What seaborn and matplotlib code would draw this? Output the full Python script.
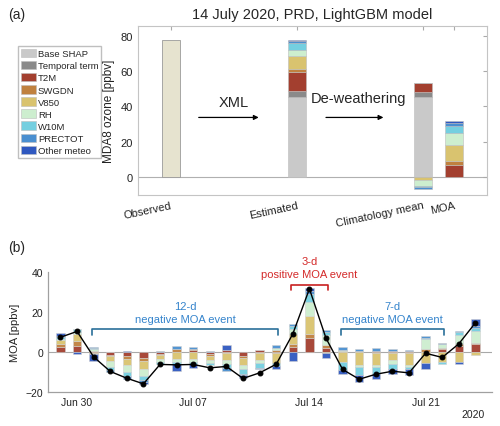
import numpy as np
import pandas as pd
import seaborn as sns
import matplotlib.pyplot as plt
import matplotlib.dates as mdates

sns.set_style('white')
plt.rcParams['font.family'] = ['Liberation Sans', 'DejaVu Sans']

# ---- painel (a): 14 July 2020 ----
componentes = ['Base SHAP', 'Temporal term', 'T2M', 'SWGDN', 'V850', 'RH',
               'W10M', 'PRECTOT', 'Other meteo']
cores = ['#c9c9c9', '#8a8a8a', '#a33f2f', '#c0813f', '#d9c36f', '#cdeecf',
         '#74cfe0', '#4a8fd0', '#2f58c0']

categorias_a = ['Observed', 'Estimated', 'Climatology mean', 'MOA']
observado = 77.8
# valores para Estimated, Climatology mean, MOA
base_shap = [45.3, 45.3, 0.0]
temporal = [3.3, 2.9, 0.0]
t2m_a = [10.9, 5.0, 7.1]
swgdn_a = [1.9, 0.0, 1.9]
v850_a = [7.2, -1.5, 9.0]
rh_a = [3.5, -3.2, 7.0]
w10m_a = [3.8, -0.9, 3.7]
prectot_a = [0.9, -1.1, 1.7]
other_a = [0.9, 0.0, 1.5]

# ---- painel (b): serie diaria de MOA ----
datas = pd.date_range('2020-06-29', '2020-07-24', freq='D')
t2m_b = [2.5, 3.0, -0.5, -1.7, -2.2, -3.0, -1.0, -0.3, 0.8, -1.2, 1.0, -2.0, 0.8,
         -0.5, 2.5, 7.1, 1.7, -0.3, -0.3, 0.5, 0.4, 0.2, -0.3, 1.2, 3.0, 3.8]
swgdn_b = [1.5, 2.5, 0.3, -0.5, -1.5, -1.7, -0.5, 1.3, 0.5, -0.8, -0.8, -1.0, -0.5,
           0.8, 1.5, 1.9, 1.5, 0.5, 0.6, -0.8, -0.8, -0.5, 1.3, 0.8, 1.0, 0.7]
v850_b = [1.8, 3.5, -0.8, -2.5, -3.0, -3.7, -2.0, -3.5, -3.5, -2.0, -3.5, -3.5, -3.8,
          -5.0, 5.0, 9.0, -0.8, -4.7, -6.3, -5.7, -3.5, -6.0, -5.5, -5.0, -5.0, -1.7]
rh_b = [0.6, 1.0, 1.0, -3.0, -3.3, -3.7, -1.5, -1.5, -1.5, -1.5, -1.7, -2.0, -1.5,
        1.2, 2.5, 7.0, 5.0, 0.5, -1.0, -1.0, -1.7, -1.0, 5.0, 2.0, 4.5, 6.0]
w10m_b = [1.2, 1.2, 0.8, -1.5, -2.0, -2.2, -1.3, -1.0, -1.3, -1.2, -2.0, -2.5, -2.2,
          -1.8, 1.5, 3.7, 1.5, -4.0, -4.0, -3.5, -2.5, -1.3, 0.8, -1.0, 1.5, 1.2]
prectot_b = [0.4, 0.0, 0.5, -0.8, -1.7, -1.0, 0.3, 1.7, 1.2, 0.3, -1.7, -0.5, -0.5,
             1.5, 0.7, 1.7, 1.0, 1.2, 1.0, 1.5, 1.2, 0.8, 0.7, 0.3, 0.5, 1.0]
other_b = [1.5, -1.2, -3.3, 0.0, 0.6, -1.0, 0.0, -3.2, -2.0, 0.0, 2.5, -1.5, 0.0,
           -1.5, -4.5, 1.5, -2.5, -2.2, -3.3, -2.7, -2.5, -2.7, -3.0, 0.3, -1.2, 3.5]
moa_b = [7.3, 10.2, -2.5, -9.8, -13.2, -16.0, -6.3, -6.5, -6.3, -8.0, -7.3, -13.3, -10.5,
         -6.2, 9.0, 31.5, 6.8, -8.8, -13.7, -11.2, -9.7, -10.5, -0.7, -2.8, 4.0, 14.5]

eventos = [  # (inicio, fim, texto, cor do texto, cor do colchete)
    ('2020-07-01', '2020-07-12', '12-d', 'negative MOA event', '#3584cc', '#2a7099'),
    ('2020-07-13', '2020-07-15', '3-d', 'positive MOA event', '#d42a2a', '#c82020'),
    ('2020-07-16', '2020-07-22', '7-d', 'negative MOA event', '#3584cc', '#2a7099'),
]


def empilhar(ax, x, series, cores, rotulos, largura, **kw):
    pos = np.zeros(len(x))
    neg = np.zeros(len(x))
    barras = []
    for vals, c, lab in zip(series, cores, rotulos):
        v = np.asarray(vals, float)
        base = np.where(v >= 0, pos, neg)
        barras.append(ax.bar(x, v, largura, bottom=base, color=c, label=lab, **kw))
        pos = pos + np.clip(v, 0, None)
        neg = neg + np.clip(v, None, 0)
    return barras


fig = plt.figure(figsize=(5, 4.27), dpi=100)
ax_a = fig.add_axes([0.276, 0.541, 0.698, 0.396])
ax_b = fig.add_axes([0.096, 0.080, 0.888, 0.281])

# painel (a)
xpos = [1, 2, 3, 3.25]
ax_a.axhline(0, color='#b0b0b0', lw=0.8, zorder=0)
ax_a.bar(xpos[0], observado, 0.14, color='#e6e3cf', edgecolor='#9a9a9a', lw=0.6)
barras_a = empilhar(ax_a, xpos[1:],
                    [base_shap, temporal, t2m_a, swgdn_a, v850_a, rh_a, w10m_a, prectot_a, other_a],
                    cores, componentes, 0.14, edgecolor='#bdbdbd', lw=0.4)
ax_a.set_xlim(0.74, 3.51)
ax_a.set_ylim(-10, 85.5)
ax_a.set_yticks([0, 20, 40, 60, 80])
ax_a.set_xticks(xpos)
ax_a.set_xticklabels(categorias_a, rotation=12, ha='right', rotation_mode='anchor')
ax_a.set_ylabel('MDA8 ozone [ppbv]', fontsize=8.5, color='#222222')
ax_a.set_title('14 July 2020, PRD, LightGBM model', fontsize=10.5, pad=6)
ax_a.tick_params(direction='in', top=True, right=True, labelsize=8, length=3,
                 color='#aaaaaa', labelcolor='#222222')
for s in ax_a.spines.values():
    s.set_color('#c4c4c4')
    s.set_linewidth(0.8)

ax_a.text(1.5, 42.8, 'XML', ha='center', va='center', fontsize=10.5)
ax_a.annotate('', xy=(1.72, 33.8), xytext=(1.2, 33.8),
              arrowprops=dict(arrowstyle='-|>', color='k', lw=0.9, mutation_scale=7))
ax_a.text(2.49, 44.5, 'De-weathering', ha='center', va='center', fontsize=10.5)
ax_a.annotate('', xy=(2.71, 33.8), xytext=(2.21, 33.8),
              arrowprops=dict(arrowstyle='-|>', color='k', lw=0.9, mutation_scale=7))

fig.legend(handles=barras_a, labels=componentes, loc='upper left',
           bbox_to_anchor=(0.036, 0.89), fontsize=6.8, frameon=True, fancybox=False,
           edgecolor='#b0b0b0', borderpad=0.3, labelspacing=0.28, handlelength=1.6,
           handleheight=1.0, handletextpad=0.2, borderaxespad=0)

# painel (b)
ax_b.axhline(0, color='#a8a8a8', lw=0.8, zorder=0)
empilhar(ax_b, datas, [t2m_b, swgdn_b, v850_b, rh_b, w10m_b, prectot_b, other_b],
         cores[2:], componentes[2:], 0.5, edgecolor='#d0d0d0', lw=0.4, alpha=0.95)
sns.lineplot(x=datas, y=moa_b, ax=ax_b, color='k', lw=1.0, marker='o',
             markersize=3.5, markeredgecolor='k', zorder=5, legend=False)
ax_b.set_xlim(pd.Timestamp('2020-06-28 06:00'), pd.Timestamp('2020-07-25'))
ax_b.set_ylim(-20, 40)
ax_b.set_yticks([-20, 0, 20, 40])
ax_b.set_xticks(pd.date_range('2020-06-30', '2020-07-21', freq='7D'))
ax_b.xaxis.set_major_formatter(mdates.DateFormatter('%b %d'))
ax_b.set_xlabel('')
ax_b.set_ylabel('MOA [ppbv]', fontsize=8, color='#222222')
ax_b.tick_params(direction='in', labelsize=7.5, length=3, color='#999999',
                 labelcolor='#222222')
sns.despine(ax=ax_b)
for s in ['left', 'bottom']:
    ax_b.spines[s].set_color('#a0a0a0')
    ax_b.spines[s].set_linewidth(0.9)
ax_b.annotate('2020', xy=(0.984, -0.183), xycoords='axes fraction', ha='right',
              va='center', fontsize=7.5, color='#222222')

for ini, fim, t1, t2, ctexto, ccol in eventos:
    x0 = mdates.date2num(pd.Timestamp(ini)) - 0.1
    x1 = mdates.date2num(pd.Timestamp(fim)) + 0.1
    positivo = 'positive' in t2
    yb = 33.5 if positivo else 11.3
    ax_b.plot([x0, x0, x1, x1], [yb - 2.8, yb, yb, yb - 2.8], color=ccol, lw=1.2,
              clip_on=False)
    xm = (x0 + x1) / 2
    ax_b.text(xm, yb + 5.2, t2, ha='center', va='center', fontsize=8, color=ctexto,
              clip_on=False)
    ax_b.text(xm, yb + 11.7, t1, ha='center', va='center', fontsize=8, color=ctexto,
              clip_on=False)

fig.text(0.016, 0.965, '(a)', fontsize=10, va='center')
fig.text(0.016, 0.419, '(b)', fontsize=10, va='center')

fig.savefig('out.png', dpi=100)
